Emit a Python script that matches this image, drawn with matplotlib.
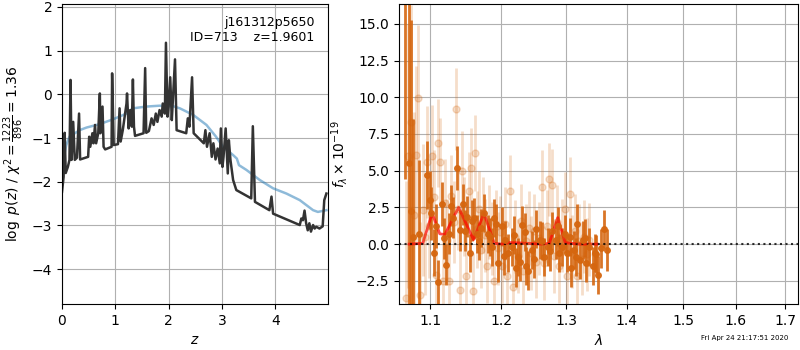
import numpy as np
import matplotlib
matplotlib.use('Agg')
import matplotlib.pyplot as plt
from matplotlib.ticker import NullLocator

# p(z) curve (dark) and smooth prior-like curve (blue)
z_pz = [0.0, 0.03, 0.05, 0.07, 0.11, 0.14, 0.16, 0.18, 0.21, 0.24, 0.28, 0.32, 0.34,
        0.49, 0.51, 0.53, 0.57, 0.59, 0.62, 0.64, 0.68, 0.71, 0.72, 0.76, 0.78, 0.81,
        0.93, 0.94, 0.97, 1.05, 1.08, 1.10, 1.14, 1.21, 1.22, 1.25, 1.28, 1.31, 1.33,
        1.35, 1.37, 1.53, 1.56, 1.58, 1.63, 1.68, 1.72, 1.76, 1.79, 1.83, 1.87, 1.89,
        1.93, 1.95, 1.98, 2.00, 2.03, 2.06, 2.08, 2.12, 2.15, 2.33, 2.36, 2.39, 2.44,
        2.47, 2.66, 2.69, 2.72, 2.77, 2.81, 2.84, 2.88, 2.92, 2.96, 2.98, 3.01, 3.03,
        3.07, 3.11, 3.13, 3.16, 3.21, 3.27, 3.55, 3.58, 3.62, 3.89, 3.93, 3.96, 4.46,
        4.49, 4.52, 4.55, 4.58, 4.61, 4.64, 4.67, 4.71, 4.74, 4.77, 4.83, 4.89, 4.92, 4.96]
logp = [-2.23, -1.89, -0.88, -1.80, -1.66, -1.50, 0.33, -1.50, -0.63, -1.50, -1.45, -0.44, -1.49,
        -1.43, -0.97, -1.20, -0.89, -1.12, -0.70, -1.12, -0.89, 0.02, -0.89, -0.28, -1.20, -1.26,
        -1.20, 0.48, -1.16, -1.14, -0.32, -1.08, -0.82, -0.21, 0.02, -0.78, -0.36, -0.74, 0.34,
        -0.74, -0.95, -0.89, 0.60, -0.88, -0.84, -0.55, -0.70, -0.44, -0.63, -0.36, -0.51, -0.21,
        -0.44, 1.18, -0.51, -0.28, 0.39, -0.59, -0.13, 0.80, -0.82, -0.89, -0.55, -0.74, 0.39,
        -0.89, -1.12, -0.82, -1.20, -0.89, -1.43, -1.12, -1.49, -1.24, -1.58, -0.78, -1.66, -1.43,
        -0.78, -1.81, -1.05, -1.50, -1.96, -2.19, -2.38, -0.73, -2.46, -2.65, -2.34, -2.73, -2.99,
        -2.84, -2.88, -2.66, -2.95, -3.11, -2.95, -3.14, -2.99, -3.07, -3.03, -3.07, -3.02, -2.42, -2.27]

z_prior = [0.02, 0.05, 0.08, 0.14, 0.33, 0.46, 0.71, 0.96, 1.21, 1.33, 1.58, 1.83, 2.08,
           2.21, 2.46, 2.71, 2.89, 3.02, 3.21, 3.28, 3.32, 3.46, 3.71, 3.96, 4.21, 4.46,
           4.71, 4.80, 4.96]
lp_prior = [-1.6, -1.35, -1.16, -0.97, -0.82, -0.76, -0.68, -0.57, -0.44, -0.32, -0.28, -0.26, -0.27,
            -0.32, -0.47, -0.70, -0.97, -1.20, -1.39, -1.47, -1.62, -1.73, -1.96, -2.15, -2.27, -2.42,
            -2.65, -2.69, -2.65]

# binned spectrum (dark orange)
wave = [1.066, 1.0720, 1.0747, 1.0773, 1.0853, 1.0960, 1.1000, 1.1014, 1.1054, 1.1109, 1.1163, 1.1218,
        1.1259, 1.1315, 1.1371, 1.1412, 1.1454, 1.1511, 1.1553, 1.1610, 1.1653, 1.1710,
        1.1753, 1.1811, 1.1869, 1.1898, 1.1957, 1.2016, 1.2060, 1.2105, 1.2164, 1.2224,
        1.2254, 1.2314, 1.2375, 1.2405, 1.2466, 1.2527, 1.2589, 1.2651, 1.2713, 1.2776,
        1.2839, 1.2886, 1.2933, 1.2981, 1.3013, 1.3077, 1.3125, 1.3174, 1.3222, 1.3271,
        1.3320, 1.3369, 1.3435, 1.3485, 1.3518, 1.3567, 1.3617, 1.3668,
        1.1080, 1.1190, 1.1290, 1.1480, 1.1580, 1.1680, 1.1840, 1.1930, 1.2040, 1.2190,
        1.2280, 1.2350, 1.2500, 1.2620, 1.2740, 1.2860, 1.3050, 1.3150, 1.3300, 1.3460]
flux = [24.0, 5.5, 2.25, 0.5, 0.7, 4.7, 3.0, 2.1, -0.6, -2.6, 2.7, -1.4,
        0.7, 1.8, 5.2, 0.95, 2.7, 1.85, -0.6, 1.75, 0.7, 1.1,
        2.1, 0.7, -0.2, 1.8, -1.3, 1.2, 0.3, -0.6, -0.2, -1.6,
        -0.9, 1.3, -1.5, -1.8, -0.4, 1.0, 0.3, -0.9, -0.2, 0.9,
        0.3, -0.6, -0.2, 0.7, -0.6, -1.6, -0.4, 1.4, -1.1, 0.3,
        -1.3, -0.2, -1.5, -0.7, -2.1, -0.3, 1.0, -0.4,
        1.2, 0.4, 2.6, 0.9, 1.6, 0.2, 0.5, 1.4, -0.8, 0.6,
        -1.2, 0.8, -1.0, 0.2, -0.5, 1.2, 0.5, -0.9, 0.4, -0.6]
err = [19.6, 11.0, 13.0, 8.0, 5.0, 2.3, 2.0, 1.8, 1.6, 1.5, 1.5, 1.4,
       1.4, 1.4, 1.5, 1.4, 1.4, 1.4, 1.3, 1.4, 1.3, 1.3,
       1.3, 1.3, 1.3, 1.3, 1.3, 1.3, 1.3, 1.3, 1.3, 1.3,
       1.3, 1.3, 1.3, 1.3, 1.3, 1.3, 1.3, 1.3, 1.3, 1.3,
       1.3, 1.3, 1.3, 1.3, 1.3, 1.3, 1.3, 1.3, 1.3, 1.3,
       1.3, 1.3, 1.3, 1.3, 1.3, 1.3, 1.3, 1.4,
       1.5, 1.4, 1.4, 1.4, 1.4, 1.3, 1.3, 1.3, 1.3, 1.3,
       1.3, 1.3, 1.3, 1.3, 1.3, 1.3, 1.3, 1.3, 1.3, 1.3]

# unbinned spectrum (faint)
wave_f = [1.068, 1.071, 1.075, 1.078, 1.081, 1.084, 1.087, 1.090, 1.093, 1.096, 1.099, 1.102,
          1.105, 1.108, 1.111, 1.114, 1.117, 1.120, 1.123, 1.126, 1.129, 1.132, 1.135, 1.138,
          1.141, 1.144, 1.147, 1.150, 1.153, 1.156, 1.159, 1.162, 1.165, 1.168, 1.171, 1.174,
          1.177, 1.180, 1.183, 1.186, 1.189, 1.192, 1.195, 1.198, 1.201, 1.205, 1.209, 1.213,
          1.217, 1.221, 1.225, 1.229, 1.233, 1.237, 1.241, 1.245, 1.249, 1.253, 1.257, 1.261,
          1.265, 1.269, 1.273, 1.277, 1.281, 1.285, 1.289, 1.293, 1.297, 1.301, 1.305, 1.309,
          1.313, 1.317, 1.321, 1.325, 1.329, 1.333, 1.337]
flux_f = [-3.7, 6.0, 8.3, 2.0, 6.1, 9.95, -3.5, 2.3, 0.5, 5.6, 1.2, 6.0,
          3.2, -2.1, 6.9, 5.6, -2.5, 2.8, 0.3, -2.5, 3.3, 1.5, 9.2, 2.4,
          -3.1, 5.0, 1.9, -2.2, 3.6, 5.2, -3.2, 6.2, 1.0, 2.4, -0.4, 2.0,
          0.6, -1.5, 1.5, 0.4, -2.5, 1.2, -0.3, 0.8, -1.5, 1.4, -2.2, 3.6,
          -2.9, 0.5, -0.8, 1.6, -1.8, 0.2, 1.1, -0.6, 0.9, -1.2, 0.4, 3.9,
          -1.3, 1.2, 4.4, 4.0, -0.8, 1.5, -1.5, 0.6, 2.4, -2.2, 3.4, -0.5,
          0.9, -2.2, 0.2, -1.0, 0.5, -0.7, 0.3]
err_f = [8.0, 9.0, 8.0, 7.0, 6.0, 5.0, 5.0, 4.5, 4.0, 3.8, 3.5, 3.5,
         3.2, 3.2, 3.0, 3.0, 3.0, 3.0, 2.8, 2.8, 2.8, 2.8, 2.8, 2.8,
         2.8, 2.7, 2.7, 2.7, 2.7, 2.7, 2.6, 2.6, 2.6, 2.6, 2.6, 2.6,
         2.5, 2.5, 2.5, 2.5, 2.5, 2.5, 2.5, 2.5, 2.5, 2.5, 2.5, 2.5,
         2.5, 2.5, 2.5, 2.5, 2.5, 2.5, 2.5, 2.5, 2.5, 2.5, 2.5, 2.5,
         2.5, 2.5, 2.5, 2.5, 2.5, 2.5, 2.5, 2.5, 2.5, 2.5, 2.5, 2.5,
         2.5, 2.5, 2.5, 2.5, 2.5, 2.5, 2.5]

# model line
wave_m = [1.072, 1.090, 1.1027, 1.1130, 1.1200, 1.1390, 1.1600, 1.1750, 1.1900, 1.2000,
          1.2120, 1.2200, 1.2600, 1.2730, 1.2862, 1.2980, 1.3200, 1.3500]
flux_m = [0.0, 0.05, 2.1, 0.7, 0.65, 2.5, 0.3, 2.1, 0.05, 0.0,
          0.1, 0.1, 0.0, 0.05, 1.8, 0.1, 0.0, 0.0]

orange = '#d5660f'

fig = plt.figure(figsize=(8, 3.5), dpi=100)

ax1 = fig.add_axes([0.0775, 0.131, 0.3325, 0.858])
ax1.plot(z_prior, lp_prior, color='tab:blue', alpha=0.5, lw=1.8)
ax1.plot(z_pz, logp, color='0.2', lw=1.8)
ax1.set_xlim(0, 4.99)
ax1.set_ylim(-4.8, 2.07)
ax1.set_xticks([0, 1, 2, 3, 4])
ax1.set_yticks([-4, -3, -2, -1, 0, 1, 2])
ax1.grid()
ax1.set_xlabel(r'$z$')
ax1.set_ylabel(r'$\log\ p(z)$' + ' / ' + r'$\chi^2=\frac{1223}{896}=1.36$')
ax1.text(0.95, 0.96, 'j161312p5650\nID=713    z=1.9601', transform=ax1.transAxes,
         ha='right', va='top', fontsize=9)

ax2 = fig.add_axes([0.499, 0.131, 0.4985, 0.858])
ax2.errorbar(wave_f, flux_f, yerr=err_f, color=orange, alpha=0.22, marker='o',
             ms=5, linestyle='None', elinewidth=2)
ax2.errorbar(wave, flux, yerr=err, color=orange, alpha=0.9, marker='o',
             ms=4, linestyle='None', elinewidth=2)
ax2.plot(wave_m, flux_m, color='r', alpha=0.7, lw=2)
ax2.axhline(0, color='k', linestyle=':', lw=1.5, alpha=0.8)
ax2.set_xscale('log')
ax2.set_xlim(1.059, 1.727)
ax2.set_ylim(-4.09, 16.36)
lam_ticks = [1.1, 1.2, 1.3, 1.4, 1.5, 1.6, 1.7]
ax2.set_xticks(lam_ticks)
ax2.set_xticklabels(['%.1f' % t for t in lam_ticks])
ax2.xaxis.set_minor_locator(NullLocator())
ax2.set_yticks([-2.5, 0, 2.5, 5, 7.5, 10, 12.5, 15])
ax2.grid()
ax2.set_xlabel(r'$\lambda$')
ax2.set_ylabel(r'$f_\lambda\times10^{-19}$')

fig.text(0.985, 0.025, 'Fri Apr 24 21:17:51 2020', ha='right', va='bottom', fontsize=5)

fig.savefig('out.png', dpi=100)
